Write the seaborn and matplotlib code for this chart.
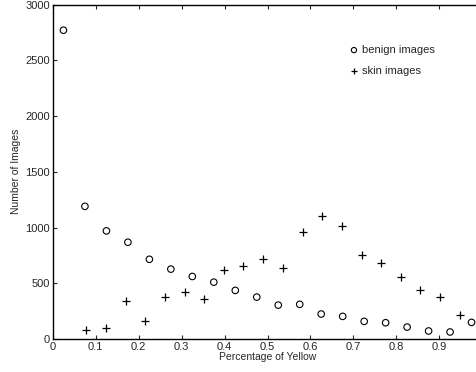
import matplotlib
matplotlib.use('Agg')
import matplotlib.pyplot as plt
import seaborn as sns

sns.set_style('white')
plt.rcParams['font.family'] = ['Liberation Sans', 'DejaVu Sans']

# Benign images (circles), bin centres
benign_x = [0.025, 0.075, 0.125, 0.175, 0.225, 0.275, 0.325, 0.375, 0.425, 0.475,
            0.525, 0.575, 0.625, 0.675, 0.725, 0.775, 0.825, 0.875, 0.925, 0.975]
benign_y = [2770, 1190, 970, 868, 715, 627, 561, 510, 436, 376,
            304, 311, 224, 203, 158, 146, 107, 72, 63, 149]

# Skin images (plus)
skin_x = [0.078, 0.124, 0.170, 0.216, 0.261, 0.307, 0.353, 0.399, 0.444, 0.490,
          0.536, 0.582, 0.628, 0.673, 0.719, 0.765, 0.810, 0.856, 0.902, 0.948]
skin_y = [78, 101, 337, 158, 379, 418, 361, 618, 656, 719,
          639, 961, 1101, 1018, 758, 678, 558, 439, 376, 218]

fig = plt.figure(figsize=(4.77, 3.72), dpi=100)
ax = fig.add_axes([0.1105, 0.0887, 0.9006, 0.8990])

sns.scatterplot(x=benign_x, y=benign_y, ax=ax, marker='o', s=22,
                facecolors='none', edgecolors='black', linewidths=0.8,
                label='benign images')
sns.scatterplot(x=skin_x, y=skin_y, ax=ax, marker='+', s=26,
                color='black', linewidths=0.9, label='skin images')

ax.set_xlim(0, 1)
ax.set_ylim(0, 3000)
ax.set_xticks([0, 0.1, 0.2, 0.3, 0.4, 0.5, 0.6, 0.7, 0.8, 0.9])
ax.set_xticklabels(['0', '0.1', '0.2', '0.3', '0.4', '0.5', '0.6', '0.7', '0.8', '0.9'])
ax.set_yticks([0, 500, 1000, 1500, 2000, 2500, 3000])
ax.tick_params(direction='in', length=3, width=0.8, labelsize=8, pad=2,
               top=True, right=True, bottom=True, left=True)
for s in ax.spines.values():
    s.set_color('black')
    s.set_linewidth(1.0)

ax.set_xlabel('Percentage of Yellow', fontsize=7.5, labelpad=0)
ax.set_ylabel('Number of Images', fontsize=7.5, labelpad=3)

ax.legend(loc='upper left', bbox_to_anchor=(0.665, 0.909), frameon=False,
          fontsize=8, handletextpad=0.25, handlelength=1.0, labelspacing=1.0,
          markerscale=0.8)

plt.savefig('out.png', dpi=100)
